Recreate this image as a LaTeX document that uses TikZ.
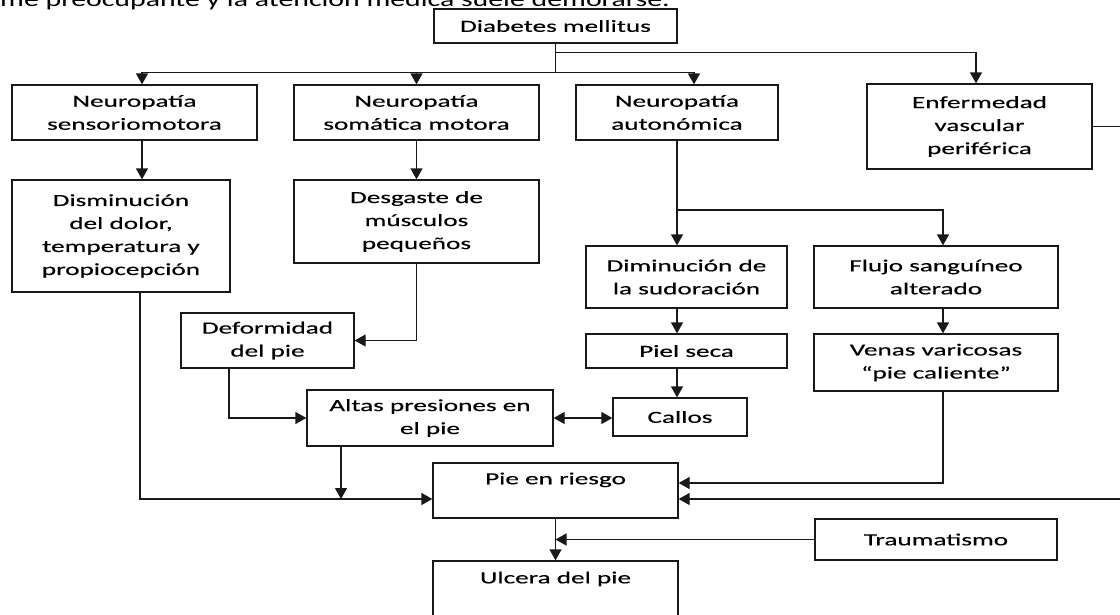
\documentclass[tikz,border=0pt]{standalone}
\usepackage{fontspec}
\setmainfont{Carlito}[FakeStretch=1.6,FakeBold=0.4]
\newfontfamily\parrafofont{Carlito}[FakeStretch=1.42]
\usetikzlibrary{arrows.meta,calc}

\begin{document}
\begin{tikzpicture}[x=1pt,y=-1pt,
    caja/.style={draw=black!90, line width=1.3pt, inner sep=0pt, align=center, font=\fontsize{17}{23}\selectfont},
    linea/.style={draw=black!90, line width=1.3pt},
    txt/.style={inner sep=0pt, font=\fontsize{17}{23}\selectfont},
    >={Triangle[length=11pt,width=12pt]}]

    % Area visible
    \useasboundingbox (0,0) rectangle (1120,614);
    \clip (0,0) rectangle (1120,614);

    % Texto cortado del parrafo
    \node[anchor=base west, inner sep=0pt, font=\parrafofont\fontsize{21}{24}\selectfont] (parrafo) at (0,6) {me preocupante y la atención médica suele demorarse.};

    % Causa principal
    \node[caja, minimum width=243pt, minimum height=34pt] (dm) at (555.5,26) {Diabetes mellitus};

    % Neuropatias y enfermedad vascular
    \node[caja, minimum width=245pt, minimum height=55pt] (nsm) at (134.5,112.5) {Neuropatía\\sensoriomotora};
    \node[caja, minimum width=245pt, minimum height=55pt] (nsom) at (416.5,112.5) {Neuropatía\\somática motora};
    \node[caja, minimum width=202pt, minimum height=55pt] (naut) at (677,112.5) {Neuropatía\\autonómica};
    \node[caja, minimum width=225pt, minimum height=85pt] (evp) at (979.5,126.5) {Enfermedad\\vascular\\periférica};

    % Consecuencias
    \node[caja, minimum width=218pt, minimum height=112pt] (ddol) at (121,236) {Disminución\\del dolor,\\temperatura y\\propiocepción};
    \node[caja, minimum width=245pt, minimum height=83pt] (desg) at (416.5,221.5) {Desgaste de\\músculos\\pequeños};
    \node[caja, minimum width=201pt, minimum height=62pt] (dsud) at (686.5,277) {Diminución de\\la sudoración};
    \node[caja, minimum width=244pt, minimum height=62pt] (flujo) at (936,277) {Flujo sanguíneo\\alterado};
    \node[caja, minimum width=201pt, minimum height=34pt] (piel) at (686.5,351) {Piel seca};
    \node[caja, minimum width=244pt, minimum height=57pt] (venas) at (936,362.5) {Venas varicosas\\“pie caliente”};
    \node[caja, minimum width=173pt, minimum height=55pt] (defor) at (267.5,340.5) {Deformidad\\del pie};
    \node[caja, minimum width=134pt, minimum height=38pt] (callos) at (680,417) {Callos};
    \node[caja, minimum width=246pt, minimum height=56pt] (altas) at (430,418) {Altas presiones en\\el pie};

    % Resultado
    \node[caja, minimum width=245pt, minimum height=55pt,
          label={[txt, anchor=north, yshift=-10pt]north:Pie en riesgo}] (riesgo) at (555.5,490.5) {};
    \node[caja, minimum width=242pt, minimum height=41pt] (trauma) at (936,539.5) {Traumatismo};
    \node[caja, minimum width=245pt, minimum height=62pt,
          label={[txt, anchor=north, yshift=-11pt]north:Ulcera del pie}] (ulcera) at (555.5,592) {};

    % Puntos de union
    \coordinate (izq) at ($(riesgo.west)+(0,8.5)$);
    \coordinate (der) at ($(riesgo.east)+(0,8.5)$);
    \coordinate (rama) at (naut.south |- 0,210);
    \coordinate (fuera) at ($(evp.east)+(40,0)$);

    % Flechas desde diabetes
    \draw[linea,->] (dm.south) |- ([xshift=7.5pt,yshift=12pt]nsm.north) -- ([xshift=7.5pt]nsm.north);
    \draw[linea,->] (dm.south) |- ([yshift=12pt]nsom.north) -- (nsom.north);
    \draw[linea,->] (dm.south) |- ([xshift=17pt,yshift=12pt]naut.north) -- ([xshift=17pt]naut.north);
    \draw[linea,->] (dm.south) |- ([xshift=-3.5pt,yshift=31pt]evp.north) -- ([xshift=-3.5pt]evp.north);

    % Rama sensorial y motora
    \draw[linea,->] ([xshift=7.5pt]nsm.south) -- ([xshift=21pt]ddol.north);
    \draw[linea,->] (nsom.south) -- (desg.north);
    \draw[linea,->] (desg.south) |- (defor.east);
    \draw[linea,->] ([xshift=-38.5pt]defor.south) |- (altas.west);
    \draw[linea,<->] (altas.east) -- (altas.east -| callos.west);
    \draw[linea,->] ([xshift=19pt]ddol.south) |- (izq);
    \draw[linea,->] ([xshift=-89pt]altas.south) -- ([xshift=-89pt]altas.south |- izq);

    % Rama autonomica
    \draw[linea,->] (naut.south) -- (naut.south |- dsud.north);
    \draw[linea,->] (rama) -| ([xshift=7pt]flujo.north);
    \draw[linea,->] (naut.south |- dsud.south) -- (naut.south |- piel.north);
    \draw[linea,->] (naut.south |- piel.south) -- (naut.south |- callos.north);
    \draw[linea,->] ([xshift=7pt]flujo.south) -- ([xshift=7pt]venas.north);
    \draw[linea,->] ([xshift=7pt]venas.south) |- ([yshift=7.5pt]riesgo.east);

    % Vascular, traumatismo y ulcera
    \draw[linea,->] (evp.east) -- (fuera) |- (der);
    \draw[linea,->] (riesgo.south) -- (ulcera.north);
    \draw[linea,->] (trauma.west) -- (trauma.west -| riesgo.south);
\end{tikzpicture}
\end{document}
